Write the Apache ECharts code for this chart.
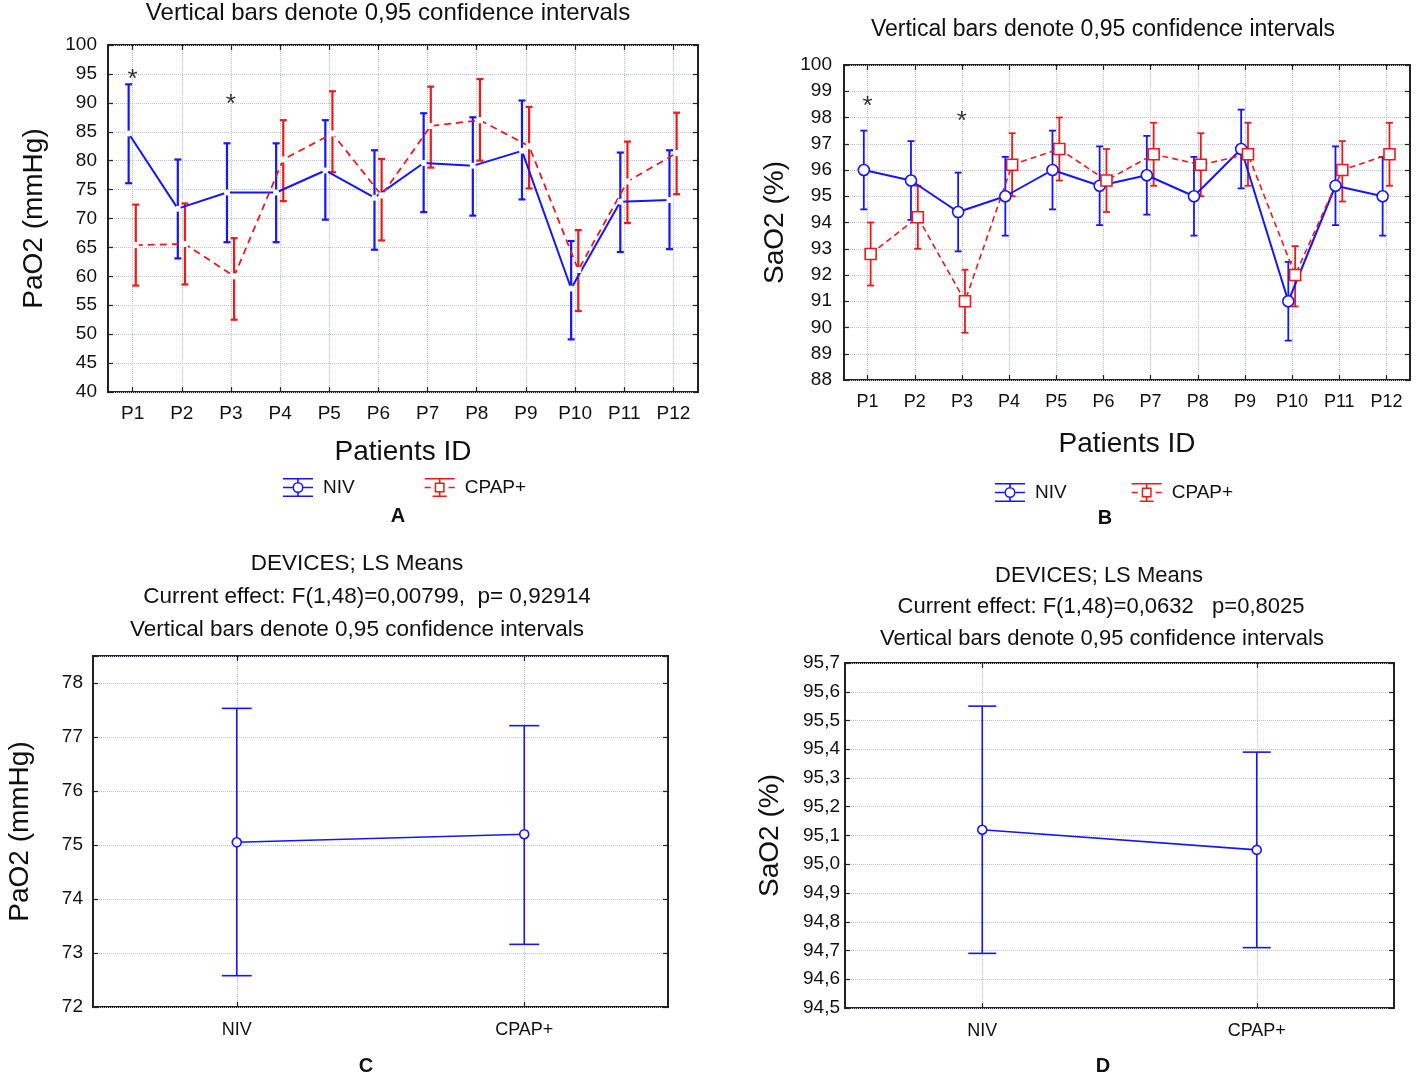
<!DOCTYPE html>
<html><head><meta charset="utf-8">
<script src="https://cdn.jsdelivr.net/npm/echarts/dist/echarts.min.js"></script>
<style>html,body{margin:0;padding:0;background:#fff}#chart{width:1416px;height:1077px}</style>
</head><body><div id="chart"></div>
<script>
// ---------- DATA ----------
const patients = ['P1','P2','P3','P4','P5','P6','P7','P8','P9','P10','P11','P12'];
// Panel A: PaO2 (mmHg) per patient
const paoNivMean  = [84.7, 71.7, 74.5, 74.5, 78.3, 73.6, 79.6, 79.1, 81.7, 57.9, 72.9, 73.2];
const paoNivLow   = [76.1, 63.1, 65.9, 65.9, 69.8, 64.6, 71.1, 70.5, 73.3, 49.1, 64.2, 64.7];
const paoNivHigh  = [93.2, 80.2, 83.0, 83.0, 87.0, 81.8, 88.2, 87.5, 90.4, 66.1, 81.4, 81.8];
const paoCpapMean = [65.4, 65.6, 60.0, 80.2, 84.7, 74.0, 86.0, 87.0, 82.5, 61.1, 76.4, 81.3];
const paoCpapLow  = [58.4, 58.6, 52.5, 73.0, 78.0, 66.2, 78.8, 80.0, 75.2, 54.0, 69.2, 74.2];
const paoCpapHigh = [72.4, 72.6, 66.6, 87.0, 92.0, 80.3, 92.8, 94.1, 89.3, 68.0, 83.3, 88.3];
const starsA = [['P1', 94.0], ['P3', 89.6]];
// Panel B: SaO2 (%) per patient
const saoNivMean  = [96.0, 95.6, 94.4, 95.0, 96.0, 95.4, 95.8, 95.0, 96.8, 91.0, 95.4, 95.0];
const saoNivLow   = [94.5, 94.1, 92.9, 93.5, 94.5, 93.9, 94.3, 93.5, 95.3, 89.5, 93.9, 93.5];
const saoNivHigh  = [97.5, 97.1, 95.9, 96.5, 97.5, 96.9, 97.3, 96.5, 98.3, 92.5, 96.9, 96.5];
const saoCpapMean = [92.8, 94.2, 91.0, 96.2, 96.8, 95.6, 96.6, 96.2, 96.6, 92.0, 96.0, 96.6];
const saoCpapLow  = [91.6, 93.0, 89.8, 95.0, 95.6, 94.4, 95.4, 95.0, 95.4, 90.8, 94.8, 95.4];
const saoCpapHigh = [94.0, 95.4, 92.2, 97.4, 98.0, 96.8, 97.8, 97.4, 97.8, 93.1, 97.1, 97.8];
const starsB = [['P1', 98.4], ['P3', 97.85]];
// Panels C, D: LS means by device
const devices = ['NIV', 'CPAP+'];
const lsPaoMean = [75.05, 75.2];
const lsPaoLow  = [72.58, 73.16];
const lsPaoHigh = [77.53, 77.21];
const lsSaoMean = [95.12, 95.05];
const lsSaoLow  = [94.69, 94.71];
const lsSaoHigh = [95.55, 95.39];
// Tick settings
const yA = {min: 40, max: 100, interval: 5};
const yB = {min: 88, max: 100, interval: 1};
const yC = {min: 72, max: 78.5, interval: 1};
const yD = {min: 94.5, max: 95.7, interval: 0.1};

// ---------- STYLE ----------
const FONT = '"Liberation Sans", Arial, sans-serif';
const BLUE = '#1515ff', RED = '#f21818', GRIDC = '#bcc2d6', TXT = '#111', AX = '#222';
const OFF_NIV = -0.08, OFF_CPAP = 0.065;

function xy(off, arr) { return arr.map((v, i) => [i + 0.5 + off, v]); }
function bars(off, lo, hi) { return lo.map((v, i) => [i + 0.5 + off, v, hi[i]]); }

function errRender(color, capHalf, lw) {
  return function (params, api) {
    const x = api.value(0);
    const a = api.coord([x, api.value(1)]);
    const b = api.coord([x, api.value(2)]);
    const st = {stroke: color, lineWidth: lw};
    return {type: 'group', children: [
      {type: 'line', shape: {x1: a[0], y1: a[1], x2: b[0], y2: b[1]}, style: st},
      {type: 'line', shape: {x1: a[0] - capHalf, y1: a[1], x2: a[0] + capHalf, y2: a[1]}, style: st},
      {type: 'line', shape: {x1: b[0] - capHalf, y1: b[1], x2: b[0] + capHalf, y2: b[1]}, style: st}
    ]};
  };
}

const tickStyle = {show: true, inside: true, alignWithLabel: true, length: 5, lineStyle: {color: AX, width: 1.2}};
function catBottom(grid, data, fontSize, margin, name, nameGap) {
  return {type: 'category', gridIndex: grid, data: data, position: 'bottom', boundaryGap: true,
    axisLine: {show: false}, axisTick: tickStyle,
    axisLabel: {fontSize: fontSize, color: TXT, margin: margin, fontFamily: FONT},
    splitLine: {show: true, alignWithLabel: true, lineStyle: {color: GRIDC, type: 'dotted', width: 1}},
    name: name, nameLocation: 'middle', nameGap: nameGap,
    nameTextStyle: {fontSize: 28, color: TXT, fontFamily: FONT}};
}
function catTop(grid, data) {
  return {type: 'category', gridIndex: grid, data: data, position: 'top', boundaryGap: true,
    axisLine: {show: false}, axisTick: tickStyle, axisLabel: {show: false}, splitLine: {show: false}};
}
function valHidden(grid, n) { return {type: 'value', gridIndex: grid, min: 0, max: n, show: false}; }
function yLeft(grid, s, fontSize, margin, name, nameGap, fmt) {
  return {type: 'value', gridIndex: grid, position: 'left', min: s.min, max: s.max, interval: s.interval,
    axisLine: {show: false}, axisTick: {show: true, inside: true, length: 5, lineStyle: {color: AX, width: 1.2}},
    axisLabel: {fontSize: fontSize, color: TXT, margin: margin, fontFamily: FONT, formatter: fmt, showMinLabel: true, showMaxLabel: true},
    splitLine: {show: true, lineStyle: {color: GRIDC, type: 'dotted', width: 1}},
    name: name, nameLocation: 'middle', nameGap: nameGap,
    nameTextStyle: {fontSize: 28, color: TXT, fontFamily: FONT}};
}
function yRight(grid, s) {
  return {type: 'value', gridIndex: grid, position: 'right', min: s.min, max: s.max, interval: s.interval,
    axisLine: {show: false}, axisTick: {show: true, inside: true, length: 5, lineStyle: {color: AX, width: 1.2}},
    axisLabel: {show: false}, splitLine: {show: false}};
}

const nivIcon = 'path://M0 0H30V1.6H0Z M0 17.4H30V19H0Z M0 8.7H9.5V10.3H0Z M20.5 8.7H30V10.3H20.5Z M14.2 1.6H15.8V4H14.2Z M14.2 15H15.8V17.4H14.2Z M20.5 9.5A5.5 5.5 0 1 1 9.5 9.5A5.5 5.5 0 1 1 20.5 9.5Z M19 9.5A4 4 0 1 0 11 9.5A4 4 0 1 0 19 9.5Z';
const cpapIcon = 'path://M0 0H30V1.6H0Z M8 17.4H22V19H8Z M0 8.7H6V10.3H0Z M24 8.7H30V10.3H24Z M14.2 1.6H15.8V4.5H14.2Z M14.2 14.5H15.8V17.4H14.2Z M10 4.5H20V14.5H10Z M11.5 6V13H18.5V6Z';

function starSeries(xi, yi, data) {
  return {type: 'scatter', xAxisIndex: xi, yAxisIndex: yi, data: data, symbolSize: 1,
    itemStyle: {color: 'rgba(0,0,0,0)'}, silent: true, z: 5,
    label: {show: true, position: 'inside', formatter: '*', fontSize: 26, color: '#000', fontFamily: FONT}};
}

const commaFmt = v => v.toFixed(1).replace('.', ',');
const intFmt = v => (Math.abs(v - Math.round(v)) < 1e-6 ? String(Math.round(v)) : '');

const option = {
  animation: false,
  textStyle: {fontFamily: FONT},
  grid: [
    {left: 108, top: 45, width: 590, height: 347, show: true, borderColor: AX, borderWidth: 2},
    {left: 844, top: 65, width: 566, height: 315, show: true, borderColor: AX, borderWidth: 2},
    {left: 93, top: 656, width: 575, height: 351, show: true, borderColor: AX, borderWidth: 2},
    {left: 845, top: 663, width: 549, height: 345, show: true, borderColor: AX, borderWidth: 2}
  ],
  xAxis: [
    catBottom(0, patients, 19, 12, 'Patients ID', 46), catTop(0, patients), valHidden(0, patients.length),
    catBottom(1, patients, 18, 13, 'Patients ID', 50), catTop(1, patients), valHidden(1, patients.length),
    catBottom(2, devices, 18, 14, '', 0), catTop(2, devices),
    catBottom(3, devices, 18, 14, '', 0), catTop(3, devices)
  ],
  yAxis: [
    yLeft(0, yA, 19, 11, 'PaO2 (mmHg)', 60, intFmt), yRight(0, yA),
    yLeft(1, yB, 19, 12, 'SaO2 (%)', 55, intFmt), yRight(1, yB),
    yLeft(2, yC, 19, 10, 'PaO2 (mmHg)', 59, intFmt), yRight(2, yC),
    yLeft(3, yD, 19, 5, 'SaO2 (%)', 61, commaFmt), yRight(3, yD)
  ],
  legend: [
    {left: 283, top: 478, padding: 0, itemWidth: 30, itemHeight: 19, itemGap: 70, selectedMode: false,
     textStyle: {fontSize: 19, color: TXT, fontFamily: FONT, padding: [0, 0, 0, 5]},
     data: [{name: 'NIV', icon: nivIcon, itemStyle: {color: BLUE}}, {name: 'CPAP+', icon: cpapIcon, itemStyle: {color: RED}}]},
    {left: 995, top: 483, padding: 0, itemWidth: 30, itemHeight: 19, itemGap: 65, selectedMode: false,
     textStyle: {fontSize: 19, color: TXT, fontFamily: FONT, padding: [0, 0, 0, 5]},
     data: [{name: 'NIV', icon: nivIcon, itemStyle: {color: BLUE}}, {name: 'CPAP+', icon: cpapIcon, itemStyle: {color: RED}}]}
  ],
  graphic: [
    {type: 'text', x: 388, y: 13, style: {text: 'Vertical bars denote 0,95 confidence intervals', font: '24px ' + FONT, fill: TXT, align: 'center', verticalAlign: 'middle'}},
    {type: 'text', x: 1103, y: 30, style: {text: 'Vertical bars denote 0,95 confidence intervals', font: '23px ' + FONT, fill: TXT, align: 'center', verticalAlign: 'middle'}},
    {type: 'text', x: 357, y: 564, style: {text: 'DEVICES; LS Means', font: '22.5px ' + FONT, fill: TXT, align: 'center', verticalAlign: 'middle'}},
    {type: 'text', x: 367, y: 597, style: {text: 'Current effect: F(1,48)=0,00799,  p= 0,92914', font: '22.5px ' + FONT, fill: TXT, align: 'center', verticalAlign: 'middle'}},
    {type: 'text', x: 357, y: 630, style: {text: 'Vertical bars denote 0,95 confidence intervals', font: '22.5px ' + FONT, fill: TXT, align: 'center', verticalAlign: 'middle'}},
    {type: 'text', x: 1099, y: 576, style: {text: 'DEVICES; LS Means', font: '22px ' + FONT, fill: TXT, align: 'center', verticalAlign: 'middle'}},
    {type: 'text', x: 1101, y: 607, style: {text: 'Current effect: F(1,48)=0,0632   p=0,8025', font: '22px ' + FONT, fill: TXT, align: 'center', verticalAlign: 'middle'}},
    {type: 'text', x: 1102, y: 639, style: {text: 'Vertical bars denote 0,95 confidence intervals', font: '22px ' + FONT, fill: TXT, align: 'center', verticalAlign: 'middle'}},
    {type: 'text', x: 398, y: 516, style: {text: 'A', font: 'bold 20px ' + FONT, fill: TXT, align: 'center', verticalAlign: 'middle'}},
    {type: 'text', x: 1105, y: 518, style: {text: 'B', font: 'bold 20px ' + FONT, fill: TXT, align: 'center', verticalAlign: 'middle'}},
    {type: 'text', x: 366, y: 1066, style: {text: 'C', font: 'bold 20px ' + FONT, fill: TXT, align: 'center', verticalAlign: 'middle'}},
    {type: 'text', x: 1103, y: 1066, style: {text: 'D', font: 'bold 20px ' + FONT, fill: TXT, align: 'center', verticalAlign: 'middle'}}
  ],
  series: [
    // Panel A
    {name: 'NIV', type: 'custom', xAxisIndex: 2, yAxisIndex: 0, itemStyle: {color: BLUE}, z: 2, silent: true,
     renderItem: errRender(BLUE, 3.5, 2.2), encode: {x: 0, y: [1, 2]}, data: bars(OFF_NIV, paoNivLow, paoNivHigh)},
    {name: 'CPAP+', type: 'custom', xAxisIndex: 2, yAxisIndex: 0, itemStyle: {color: RED}, z: 2, silent: true,
     renderItem: errRender(RED, 3.5, 2.2), encode: {x: 0, y: [1, 2]}, data: bars(OFF_CPAP, paoCpapLow, paoCpapHigh)},
    {name: 'NIV A mean', type: 'line', xAxisIndex: 2, yAxisIndex: 0, z: 3, silent: true, symbol: 'circle', symbolSize: 6,
     itemStyle: {color: '#fff', borderWidth: 0}, lineStyle: {color: BLUE, width: 2}, data: xy(OFF_NIV, paoNivMean)},
    {name: 'CPAP+ A mean', type: 'line', xAxisIndex: 2, yAxisIndex: 0, z: 3, silent: true, symbol: 'rect', symbolSize: 6,
     itemStyle: {color: '#fff', borderWidth: 0}, lineStyle: {color: RED, width: 1.8, type: [7, 5]}, data: xy(OFF_CPAP, paoCpapMean)},
    starSeries(0, 0, starsA),
    // Panel B
    {name: 'NIV', type: 'custom', xAxisIndex: 5, yAxisIndex: 2, itemStyle: {color: BLUE}, z: 2, silent: true,
     renderItem: errRender(BLUE, 3.5, 1.8), encode: {x: 0, y: [1, 2]}, data: bars(OFF_NIV, saoNivLow, saoNivHigh)},
    {name: 'CPAP+', type: 'custom', xAxisIndex: 5, yAxisIndex: 2, itemStyle: {color: RED}, z: 2, silent: true,
     renderItem: errRender(RED, 3.5, 1.8), encode: {x: 0, y: [1, 2]}, data: bars(OFF_CPAP, saoCpapLow, saoCpapHigh)},
    {name: 'NIV B mean', type: 'line', xAxisIndex: 5, yAxisIndex: 2, z: 3, silent: true, symbol: 'circle', symbolSize: 11,
     itemStyle: {color: '#fff', borderColor: BLUE, borderWidth: 1.6}, lineStyle: {color: BLUE, width: 2}, data: xy(OFF_NIV, saoNivMean)},
    {name: 'CPAP+ B mean', type: 'line', xAxisIndex: 5, yAxisIndex: 2, z: 3, silent: true, symbol: 'rect', symbolSize: 11,
     itemStyle: {color: '#fff', borderColor: RED, borderWidth: 1.6}, lineStyle: {color: RED, width: 1.6, type: [6, 4]}, data: xy(OFF_CPAP, saoCpapMean)},
    starSeries(3, 2, starsB),
    // Panel C
    {name: 'C bars', type: 'custom', xAxisIndex: 6, yAxisIndex: 4, itemStyle: {color: BLUE}, z: 2, silent: true,
     renderItem: errRender(BLUE, 15, 1.6), encode: {x: 0, y: [1, 2]}, data: devices.map((d, i) => [i, lsPaoLow[i], lsPaoHigh[i]])},
    {name: 'C mean', type: 'line', xAxisIndex: 6, yAxisIndex: 4, z: 3, silent: true, symbol: 'circle', symbolSize: 9,
     itemStyle: {color: '#fff', borderColor: BLUE, borderWidth: 1.6}, lineStyle: {color: BLUE, width: 1.6}, data: lsPaoMean},
    // Panel D
    {name: 'D bars', type: 'custom', xAxisIndex: 8, yAxisIndex: 6, itemStyle: {color: BLUE}, z: 2, silent: true,
     renderItem: errRender(BLUE, 14, 1.6), encode: {x: 0, y: [1, 2]}, data: devices.map((d, i) => [i, lsSaoLow[i], lsSaoHigh[i]])},
    {name: 'D mean', type: 'line', xAxisIndex: 8, yAxisIndex: 6, z: 3, silent: true, symbol: 'circle', symbolSize: 9,
     itemStyle: {color: '#fff', borderColor: BLUE, borderWidth: 1.6}, lineStyle: {color: BLUE, width: 1.6}, data: lsSaoMean}
  ]
};
const chart = echarts.init(document.getElementById('chart'), null, {renderer: 'canvas'});
chart.setOption(option);
</script></body></html>
